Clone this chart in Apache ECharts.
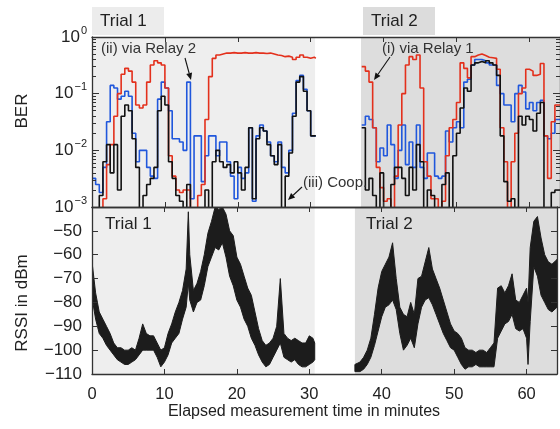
<!DOCTYPE html>
<html>
<head>
<meta charset="utf-8">
<script src="https://cdn.jsdelivr.net/npm/echarts@6/dist/echarts.min.js"></script>
<style>
  html, body { margin: 0; background: #fff; }
  #container { width: 560px; height: 429px; }
</style>
</head>
<body>
<div id="container"></div>
<script>
// ---- BER, trial 1 (step values, each holds until the next time) ----
var berTime1 = [0,0.5,1,1.5,2,2.5,3,3.5,4,4.5,5,5.5,6,6.5,7,7.5,8,8.5,9,9.5,
  10,10.5,11,11.5,12,12.5,13,13.5,14,14.5,15,15.5,16,16.5,17,17.5,18,18.5,19,19.5,
  20,20.5,21,21.5,22,22.5,23,23.5,24,24.5,25,25.5,26,26.5,27,27.5,28,28.5,29,29.5,
  30,30.5,30.7];
var relay1Trial1 = [0.0003,0.0003,0.0003,0.0014,0.0056,0.0126,0.04,0.1,0.22,0.28,
  0.25,0.16,0.063,0.056,0.063,0.16,0.32,0.38,0.35,0.32,
  0.126,0.008,0.0035,0.002,0.0018,0.002,0.002,0.0003,0.0003,0.0016,
  0.0025,0.035,0.2,0.42,0.48,0.5,0.52,0.52,0.53,0.52,
  0.52,0.53,0.52,0.52,0.53,0.52,0.52,0.51,0.52,0.5,
  0.48,0.47,0.45,0.46,0.44,0.4,0.44,0.48,0.44,0.42,
  0.44,0.42,0.42];
var relay2Trial1 = [0.0032,0.0025,0.0018,0.005,0.032,0.14,0.126,0.08,0.09,0.11,
  0.09,0.02,0.0063,0.01,0.01,0.005,0.0035,0.0032,0.08,0.16,
  0.126,0.05,0.016,0.016,0.014,0.01,0.16,0.0014,0.018,0.018,
  0.0028,0.008,0.018,0.018,0.008,0.014,0.014,0.0063,0.0035,0.0014,
  0.005,0.0032,0.004,0.025,0.00126,0.018,0.028,0.022,0.014,0.008,
  0.0063,0.014,0.005,0.004,0.01,0.045,0.17,0.21,0.12,0.05,
  0.018,0.018,0.018];
var coopTrial1 = [0.0003,0.0003,0.0016,0.0063,0.0126,0.004,0.0126,0.002,0.04,0.063,
  0.05,0.016,0.005,0.0003,0.0016,0.0025,0.0032,0.005,0.05,0.09,
  0.063,0.0063,0.0032,0.0016,0.00126,0.0003,0.0025,0.0003,0.0003,0.0003,
  0.0003,0.002,0.0003,0.0063,0.01,0.0063,0.005,0.0056,0.004,0.0063,
  0.004,0.002,0.005,0.025,0.0014,0.016,0.025,0.022,0.0126,0.008,
  0.0056,0.0126,0.0003,0.0035,0.009,0.04,0.16,0.2,0.11,0.05,
  0.018,0.018,0.018];

// ---- BER, trial 2 ----
var berTime2 = [37,37.5,38,38.5,39,39.5,40,40.5,41,41.5,42,42.5,43,43.5,44,44.5,
  45,45.5,46,46.5,47,47.5,48,48.5,49,49.5,50,50.5,51,51.5,52,52.5,53,53.5,54,54.5,
  55,55.5,56,56.5,57,57.5,58,58.5,59,59.5,60,60.5,61,61.5,62,62.5,63,63.5,64.2];
var relay1Trial2 = [0.3,0.25,0.16,0.025,0.005,0.0022,0.00126,0.0014,0.0003,0.0035,
  0.028,0.1,0.32,0.45,0.4,0.48,0.126,0.0063,0.0035,0.0014,
  0.0014,0.0003,0.00126,0.008,0.025,0.035,0.07,0.35,0.28,0.19,
  0.45,0.48,0.5,0.47,0.44,0.43,0.42,0.27,0.025,0.0063,
  0.0003,0.0063,0.02,0.1,0.126,0.27,0.25,0.21,0.22,0.34,
  0.018,0.0032,0.032,0.063,0.063];
var relay2Trial2 = [0.028,0.04,0.035,0.025,0.0063,0.011,0.008,0.028,0.0126,0.0032,
  0.01,0.028,0.0056,0.014,0.005,0.028,0.005,0.0032,0.009,0.009,
  0.0035,0.0032,0.0035,0.022,0.014,0.025,0.032,0.025,0.16,0.18,
  0.32,0.4,0.4,0.38,0.35,0.32,0.32,0.14,0.1,0.063,
  0.063,0.032,0.1,0.14,0.107,0.054,0.07,0.05,0.07,0.076,
  0.018,0.016,0.02,0.035,0.035];
var coopTrial2 = [0.025,0.002,0.0032,0.0016,0.0003,0.004,0.0003,0.0003,0.0025,0.005,
  0.005,0.0032,0.0016,0.005,0.002,0.0126,0.0063,0.0003,0.002,0.0016,
  0.0003,0.0003,0.0025,0.004,0.0003,0.008,0.02,0.056,0.126,0.11,
  0.32,0.35,0.37,0.35,0.38,0.35,0.32,0.21,0.018,0.0028,
  0.00126,0.0014,0.0003,0.04,0.028,0.04,0.035,0.022,0.045,0.07,
  0.0003,0.0003,0.0018,0.002,0.002];

// ---- RSSI envelope (dBm), trial 1 and 2 ----
var rssiTime1 = [0,0.5,1,1.5,2,2.5,3,3.5,4,4.5,5,5.5,6,6.5,7,7.5,8,8.5,9,9.5,
  10,10.5,11,11.5,12,12.5,13,13.3,13.5,14,14.5,15,15.5,16,16.5,17,17.5,18,18.5,19,19.5,
  20,20.5,21,21.5,22,22.5,23,23.5,24,24.5,25,25.5,26,26.5,27,27.5,28,28.5,29,29.5,
  30,30.5,30.75];
var rssiHigh1 = [-63,-76,-84,-87,-90,-93,-97,-99,-99,-100,-100,-99,-100,-95,-89,-93,-94,-94,-97,-100,
  -99,-93,-89,-84,-80,-75,-66,-42,-60,-75,-72,-67,-60,-51,-46,-40,-41,-40,-43,-50,-52,
  -61,-64,-69,-74,-77,-84,-91,-96,-98,-97,-95,-90,-70,-93,-95,-96,-95,-96,-97,-97,
  -94,-95,-97];
var rssiLow1 = [-78,-87,-93,-95,-98,-100,-102,-104,-105,-106,-106,-105,-104,-102,-100,-100,-100,-100,-103,-107,
  -105,-102,-97,-95,-93,-87,-82,-72,-79,-84,-80,-79,-73,-65,-61,-57,-58,-55,-61,-69,-73,
  -79,-82,-87,-90,-95,-98,-102,-105,-107,-106,-103,-100,-97,-103,-104,-105,-104,-106,-107,-107,
  -106,-105,-104];
var rssiTime2 = [36.3,37,37.5,38,38.5,39,39.5,40,40.5,41,41.5,42,42.5,43,43.5,44,44.5,
  45,45.5,46,46.5,47,47.5,48,48.5,49,49.5,50,50.5,51,51.5,52,52.5,53,53.5,54,54.5,
  55,55.5,56,56.5,57,57.5,58,58.5,59,59.5,60,60.2,60.5,61,61.5,62,62.5,63,63.5,64.2];
var rssiHigh2 = [-106,-105,-103,-100,-95,-85,-74,-67,-64,-61,-55,-70,-82,-85,-86,-80,-85,
  -70,-69,-63,-57,-66,-70,-74,-79,-84,-89,-92,-93,-95,-99,-100,-100,-101,-100,-100,-101,
  -99,-97,-74,-73,-76,-73,-68,-79,-80,-77,-74,-80,-57,-46,-44,-53,-60,-63,-64,-62];
var rssiLow2 = [-109,-109,-108,-106,-103,-98,-92,-86,-82,-81,-79,-83,-93,-100,-98,-95,-99,
  -89,-82,-79,-78,-81,-85,-89,-93,-96,-99,-100,-103,-106,-108,-107,-107,-106,-107,-107,-107,
  -107,-107,-95,-92,-89,-88,-85,-91,-92,-91,-95,-106,-88,-65,-69,-77,-80,-83,-84,-82];

// shaded trial spans (minutes) and axis ticks
var trialSpansTop = [[0, 30.6], [36.9, 64.2]];
var trialSpansBottom = [[0, 30.75], [36.3, 64.2]];
var trialColors = ['#eeeeee', '#dddddd'];
var berMinorTicks = [0.002,0.003,0.004,0.005,0.006,0.007,0.008,0.009,
  0.02,0.03,0.04,0.05,0.06,0.07,0.08,0.09,0.2,0.3,0.4,0.5,0.6,0.7,0.8,0.9];

var FONT = '"Liberation Sans", Arial, sans-serif';
var INK = '#222';
var X_MAX = 64.2;

function pairs(t, v) {
  return t.map(function (x, i) { return [x, v[i]]; });
}
function spans(list) {
  return list.map(function (s, i) {
    return [{ xAxis: s[0], itemStyle: { color: trialColors[i] } }, { xAxis: s[1] }];
  });
}
function expLabel(v) {
  var e = Math.round(Math.log10(v));
  return '{b|10}{s|' + (e < 0 ? '\u2212' + (-e) : e) + '}';
}
function arrow(x1, y1, x2, y2) {
  var a = Math.atan2(y2 - y1, x2 - x1), L = 7, W = 3;
  var bx = x2 - L * Math.cos(a), by = y2 - L * Math.sin(a);
  var px = -Math.sin(a) * W, py = Math.cos(a) * W;
  return [
    { type: 'line', z: 30, shape: { x1: x1, y1: y1, x2: bx, y2: by }, style: { stroke: '#111', lineWidth: 1.1 } },
    { type: 'polygon', z: 30, shape: { points: [[x2, y2], [bx + px, by + py], [bx - px, by - py]] }, style: { fill: '#111' } }
  ];
}

var axisLine = { show: true, onZero: false, lineStyle: { color: '#333', width: 1.3 } };
var tick = function (len) { return { show: true, inside: true, length: len, lineStyle: { color: '#333', width: 1 } }; };

function xAxis(grid, pos, labels) {
  return {
    type: 'value', gridIndex: grid, position: pos, min: 0, max: X_MAX, interval: 10, z: 10,
    axisLine: axisLine, axisTick: tick(5), splitLine: { show: false },
    axisLabel: {
      show: labels, margin: 12, fontSize: 16.5, color: INK, fontFamily: FONT,
      formatter: function (v) { return v % 10 === 0 ? String(v) : ''; }
    }
  };
}

var chart = echarts.init(document.getElementById('container'));

var berSeries = function (name, t, v, color) {
  return {
    name: name, type: 'line', xAxisIndex: 0, yAxisIndex: 0, step: 'end', symbol: 'none',
    data: pairs(t, v), lineStyle: { color: color, width: 1.6 }, z: 3, clip: true
  };
};
// RSSI drawn as a filled band between the low and high envelope
var rssiBand = function (t, lo, hi) {
  return {
    type: 'custom', xAxisIndex: 2, yAxisIndex: 2, clip: true, z: 3,
    data: [[t[0], lo[0]]],
    renderItem: function (params, api) {
      var pts = [];
      for (var i = 0; i < t.length; i++) pts.push(api.coord([t[i], hi[i]]));
      for (var j = t.length - 1; j >= 0; j--) pts.push(api.coord([t[j], lo[j]]));
      return {
        type: 'polygon', shape: { points: pts },
        style: { fill: '#1c1c1c', stroke: '#1c1c1c', lineWidth: 1 }
      };
    }
  };
};

var option = {
  animation: false,
  backgroundColor: '#fff',
  grid: [
    { left: 92, top: 37, width: 471, height: 170 },
    { left: 92, top: 207, width: 471, height: 167 },
    { left: 92, top: 37, width: 471, height: 170 }
  ],
  xAxis: [
    xAxis(0, 'bottom', false),
    xAxis(0, 'top', false),
    xAxis(1, 'bottom', true),
    xAxis(1, 'top', false),
    { type: 'value', gridIndex: 2, min: 0, max: X_MAX, show: false }
  ],
  yAxis: [
    { type: 'log', logBase: 10, gridIndex: 0, position: 'left', min: 0.001, max: 1, z: 10,
      axisLine: axisLine, axisTick: tick(7), splitLine: { show: false },
      axisLabel: {
        margin: 5, formatter: expLabel,
        rich: {
          b: { fontSize: 17, fontFamily: FONT, color: INK },
          s: { fontSize: 11, fontFamily: FONT, color: INK, padding: [0, 0, 13, 1] }
        }
      } },
    { type: 'log', logBase: 10, gridIndex: 0, position: 'right', min: 0.001, max: 1, z: 10,
      axisLine: axisLine, axisTick: tick(7), axisLabel: { show: false }, splitLine: { show: false } },
    { type: 'value', gridIndex: 1, position: 'left', min: -110, max: -40, interval: 10, z: 10,
      axisLine: axisLine, axisTick: tick(6), splitLine: { show: false },
      axisLabel: {
        margin: 10, fontSize: 17, color: INK, fontFamily: FONT,
        formatter: function (v) { return v === -40 ? '' : String(v).replace('-', '\u2212'); }
      } },
    { type: 'value', gridIndex: 1, position: 'right', min: -110, max: -40, interval: 10, z: 10,
      axisLine: axisLine, axisTick: tick(6), axisLabel: { show: false }, splitLine: { show: false } },
    { type: 'log', logBase: 10, gridIndex: 2, position: 'left', min: 0.001, max: 1, z: 10,
      axisLine: { show: false }, axisLabel: { show: false }, splitLine: { show: false },
      axisTick: { show: true, inside: true, length: 4, customValues: berMinorTicks, lineStyle: { color: '#333' } } },
    { type: 'log', logBase: 10, gridIndex: 2, position: 'right', min: 0.001, max: 1, z: 10,
      axisLine: { show: false }, axisLabel: { show: false }, splitLine: { show: false },
      axisTick: { show: true, inside: true, length: 4, customValues: berMinorTicks, lineStyle: { color: '#333' } } }
  ],
  series: [
    { type: 'line', xAxisIndex: 0, yAxisIndex: 0, data: [], z: 1,
      markArea: { silent: true, data: spans(trialSpansTop) } },
    { type: 'line', xAxisIndex: 2, yAxisIndex: 2, data: [], z: 1,
      markArea: { silent: true, data: spans(trialSpansBottom) } },
    berSeries('via Relay 2', berTime1, relay2Trial1, '#2057dc'),
    berSeries('via Relay 2', berTime2, relay2Trial2, '#2057dc'),
    berSeries('via Relay 1', berTime1, relay1Trial1, '#e3301c'),
    berSeries('via Relay 1', berTime2, relay1Trial2, '#e3301c'),
    berSeries('Coop.', berTime1, coopTrial1, '#111111'),
    berSeries('Coop.', berTime2, coopTrial2, '#111111'),
    rssiBand(rssiTime1, rssiLow1, rssiHigh1),
    rssiBand(rssiTime2, rssiLow2, rssiHigh2)
  ],
  graphic: [
    { type: 'rect', shape: { x: 92, y: 7, width: 72, height: 28 }, style: { fill: '#ececec' } },
    { type: 'rect', shape: { x: 363, y: 7, width: 72, height: 28 }, style: { fill: '#dcdcdc' } },
    { type: 'text', x: 100, y: 21, style: { text: 'Trial 1', fontSize: 17, fontFamily: FONT, fill: INK, verticalAlign: 'middle' } },
    { type: 'text', x: 371, y: 21, style: { text: 'Trial 2', fontSize: 17, fontFamily: FONT, fill: INK, verticalAlign: 'middle' } },
    { type: 'text', x: 105, y: 224, z: 20, style: { text: 'Trial 1', fontSize: 17, fontFamily: FONT, fill: INK, verticalAlign: 'middle' } },
    { type: 'text', x: 366, y: 224, z: 20, style: { text: 'Trial 2', fontSize: 17, fontFamily: FONT, fill: INK, verticalAlign: 'middle' } },
    { type: 'text', x: 101, y: 49, z: 20, style: { text: '(ii) via Relay 2', fontSize: 15, fontFamily: FONT, fill: '#333', verticalAlign: 'middle' } },
    { type: 'text', x: 382, y: 49, z: 20, style: { text: '(i) via Relay 1', fontSize: 15, fontFamily: FONT, fill: '#333', verticalAlign: 'middle' } },
    { type: 'text', x: 303, y: 183, z: 20, style: { text: '(iii) Coop.', fontSize: 15, fontFamily: FONT, fill: '#333', verticalAlign: 'middle' } },
    { type: 'text', x: 22, y: 111, rotation: Math.PI / 2, style: { text: 'BER', fontSize: 17, fontFamily: FONT, fill: INK, align: 'center', verticalAlign: 'middle' } },
    { type: 'text', x: 22, y: 303, rotation: Math.PI / 2, style: { text: 'RSSI in dBm', fontSize: 17, fontFamily: FONT, fill: INK, align: 'center', verticalAlign: 'middle' } },
    { type: 'text', x: 304, y: 412, style: { text: 'Elapsed measurement time in minutes', fontSize: 16, fontFamily: FONT, fill: INK, align: 'center', verticalAlign: 'middle' } }
  ].concat(arrow(185, 58, 191, 80)).concat(arrow(390, 57, 374, 80)).concat(arrow(302, 187, 288, 200))
};

chart.setOption(option);
</script>
</body>
</html>
